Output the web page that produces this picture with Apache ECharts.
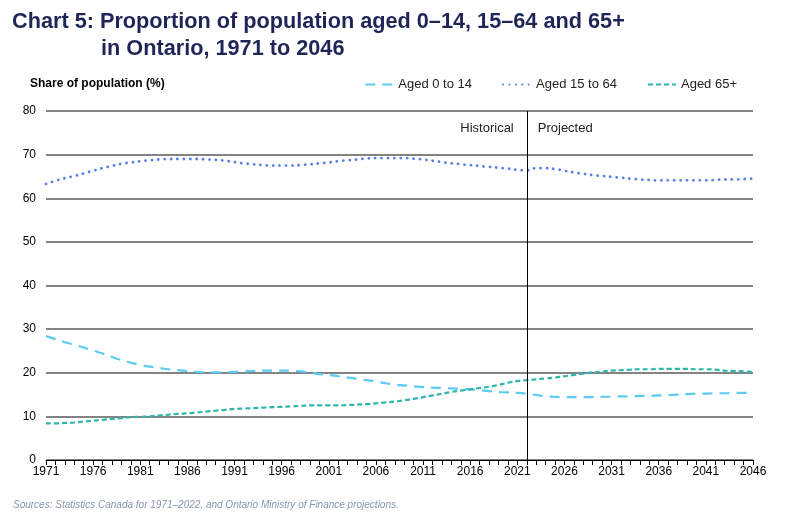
<!DOCTYPE html>
<html><head><meta charset="utf-8">
<script src="https://cdn.jsdelivr.net/npm/echarts@6/dist/echarts.min.js"></script>
<style>html,body{margin:0;padding:0;background:#fff}#c{width:790px;height:514px}</style>
</head><body><div id="c"></div>
<script>
const years = [];
for (let y = 1971; y <= 2046; y++) years.push(String(y));
const aged0to14 = [28.4,27.7,27.0,26.4,25.8,25.1,24.4,23.6,22.9,22.3,21.8,21.4,21.1,20.8,20.6,20.4,20.2,20.1,20.1,20.1,
20.2,20.3,20.4,20.5,20.5,20.5,20.5,20.3,20.0,19.7,19.5,19.2,18.9,18.6,18.3,18.0,17.6,17.3,17.1,16.9,
16.7,16.6,16.5,16.4,16.3,16.2,16.0,15.8,15.6,15.5,15.4,15.2,14.9,14.6,14.5,14.4,14.4,14.4,14.4,14.5,
14.5,14.6,14.6,14.7,14.7,14.8,14.9,15.0,15.1,15.2,15.2,15.3,15.3,15.4,15.4,15.4];
const aged15to64 = [63.3,64.0,64.6,65.1,65.7,66.3,66.9,67.4,67.9,68.2,68.5,68.7,68.9,69.0,69.0,69.0,69.0,68.9,68.8,68.6,
68.3,68.0,67.8,67.6,67.5,67.5,67.5,67.6,67.8,68.0,68.2,68.5,68.7,68.9,69.1,69.2,69.2,69.2,69.2,69.1,
68.9,68.6,68.3,68.0,67.8,67.6,67.4,67.2,67.0,66.8,66.5,66.4,66.9,66.9,66.7,66.3,65.9,65.6,65.3,65.1,
64.9,64.7,64.5,64.3,64.2,64.1,64.1,64.1,64.1,64.1,64.1,64.2,64.3,64.3,64.4,64.5];
const aged65plus = [8.4,8.4,8.5,8.6,8.8,9.0,9.2,9.4,9.6,9.8,9.9,10.0,10.2,10.4,10.6,10.7,10.9,11.1,11.3,11.5,
11.7,11.8,11.9,12.0,12.1,12.2,12.3,12.4,12.5,12.5,12.5,12.5,12.6,12.7,12.8,13.0,13.2,13.4,13.7,14.0,
14.4,14.8,15.2,15.6,15.9,16.2,16.5,16.8,17.2,17.7,18.1,18.3,18.5,18.7,18.9,19.2,19.5,19.8,20.1,20.3,
20.5,20.6,20.7,20.8,20.8,20.9,20.9,20.9,20.9,20.8,20.8,20.7,20.5,20.4,20.3,20.2];
const splitYear = '2022';
const periodLabels = ['Historical', 'Projected'];

const chart = echarts.init(document.getElementById('c'), null, {renderer: 'canvas'});
const font = 'Liberation Sans, Arial, sans-serif';
chart.setOption({
  animation: false,
  title: [
    {text: 'Chart 5: Proportion of population aged 0\u201314, 15\u201364 and 65+', left: 7, top: 6,
     textStyle: {fontFamily: font, fontSize: 21.7, fontWeight: 'bold', color: '#1F2657'}},
    {text: 'in Ontario, 1971 to 2046', left: 96, top: 33,
     textStyle: {fontFamily: font, fontSize: 21.7, fontWeight: 'bold', color: '#1F2657'}},
    {text: 'Share of population (%)', left: 25, top: 73,
     textStyle: {fontFamily: font, fontSize: 12, fontWeight: 'bold', color: '#000'}},
    {text: 'Sources: Statistics Canada for 1971\u20132022, and Ontario Ministry of Finance projections.', left: 8, top: 495,
     textStyle: {fontFamily: font, fontSize: 10, fontStyle: 'italic', fontWeight: 'normal', color: '#8796AE'}}
  ],
  legend: {
    right: 48, top: 73, itemWidth: 28, itemHeight: 10, itemGap: 30,
    itemStyle: {opacity: 0},
    textStyle: {fontFamily: font, fontSize: 13, color: '#222'},
    data: ['Aged 0 to 14', 'Aged 15 to 64', 'Aged 65+']
  },
  grid: {left: 46, right: 37, top: 111, bottom: 54},
  xAxis: {
    type: 'category', data: years, boundaryGap: false,
    axisLine: {lineStyle: {color: '#000', width: 1}},
    axisTick: {show: true, interval: 0, length: 5, lineStyle: {color: '#000'}},
    axisLabel: {interval: 4, color: '#000', fontFamily: font, fontSize: 12, margin: 6, showMaxLabel: true},
    splitLine: {show: false}
  },
  yAxis: {
    type: 'value', min: 0, max: 80, interval: 10,
    axisLine: {show: false}, axisTick: {show: false},
    axisLabel: {color: '#000', fontFamily: font, fontSize: 12, margin: 10},
    splitLine: {lineStyle: {color: '#5a5a5a', width: 1.5}}
  },
  series: [
    {name: 'Aged 0 to 14', type: 'line', data: aged0to14, smooth: true, symbol: 'none',
     lineStyle: {color: '#5BCBF2', width: 2.2, type: [10, 7]}, itemStyle: {color: '#5BCBF2'},
     markLine: {silent: true, symbol: 'none', label: {show: false},
       lineStyle: {color: '#000', width: 1, type: 'solid'}, data: [{xAxis: splitYear}]},
     markArea: {silent: true, itemStyle: {color: 'rgba(0,0,0,0)'},
       label: {fontFamily: font, fontSize: 13, color: '#222'},
       data: [
         [{xAxis: years[0], name: periodLabels[0], label: {position: 'insideTopRight', offset: [-8, 6]}}, {xAxis: splitYear}],
         [{xAxis: splitYear, name: periodLabels[1], label: {position: 'insideTopLeft', offset: [6, 6]}}, {xAxis: years[years.length - 1]}]
       ]}},
    {name: 'Aged 15 to 64', type: 'line', data: aged15to64, smooth: true, symbol: 'none',
     lineStyle: {color: '#5A7FEA', width: 2.8, type: [0.1, 6.3], cap: 'round'}, itemStyle: {color: '#5A7FEA'}},
    {name: 'Aged 65+', type: 'line', data: aged65plus, smooth: true, symbol: 'none',
     lineStyle: {color: '#2DB6AE', width: 2.2, type: [5, 3]}, itemStyle: {color: '#2DB6AE'}}
  ]
});
</script></body></html>
